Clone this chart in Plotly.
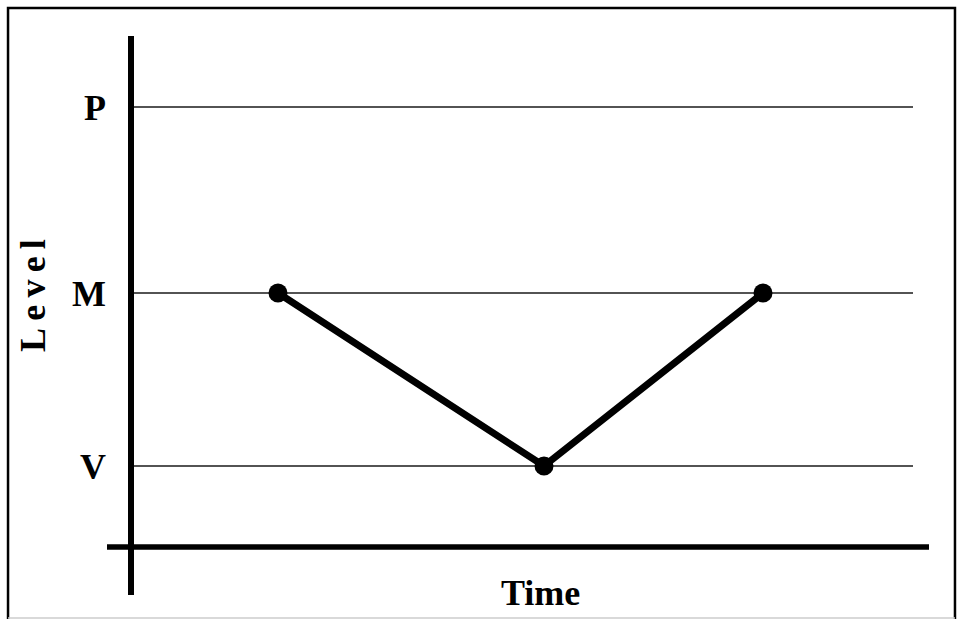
import plotly.graph_objects as go

# levels on the vertical scale (label -> position)
level_labels = ["V", "M", "P"]
level_values = [1.0, 2.0, 3.075]

# the path over time
time_points = [1.47, 4.13, 6.32]
path_levels = ["M", "V", "M"]

time_end = 7.82  # where the level lines stop

lvl = dict(zip(level_labels, level_values))
path_y = [lvl[k] for k in path_levels]

serif = "Liberation Serif, Times New Roman, serif"

fig = go.Figure()
fig.add_trace(go.Scatter(
    x=time_points, y=path_y, mode="lines+markers",
    line=dict(color="black", width=7),
    marker=dict(color="black", size=19),
    hoverinfo="skip", showlegend=False,
))

# level lines, from the vertical axis to the end of the time span
for v in level_values:
    fig.add_shape(type="line", xref="x", yref="y", x0=0, x1=time_end, y0=v, y1=v,
                  line=dict(color="#1a1a1a", width=1.5), layer="below")

# horizontal axis, running a little past the vertical one on both sides
fig.add_shape(type="line", xref="paper", yref="y", x0=0, x1=1, y0=0.532, y1=0.532,
              line=dict(color="black", width=5.5), layer="below")

# scanned page border
fig.add_shape(type="path", xref="paper", yref="paper",
              path="M -0.1204,-0.045 L -0.1204,1.0501 L 1.0316,1.0501 L 1.0316,-0.045",
              line=dict(color="black", width=2.5))
fig.add_shape(type="line", xref="paper", yref="paper", x0=-0.1204, x1=1.0316, y0=-0.0411, y1=-0.0411,
              line=dict(color="#cccccc", width=1.5))

fig.add_annotation(text="Time", xref="paper", yref="paper", x=0.5268, y=0.003,
                   xanchor="center", yanchor="middle", showarrow=False,
                   font=dict(family=serif, size=36, color="black", weight="bold"))
fig.add_annotation(text="L\u2009e\u2009v\u2009e\u2009l", xref="paper", yref="paper", x=-0.090, y=0.535,
                   xanchor="center", yanchor="middle", textangle=-90, showarrow=False,
                   font=dict(family=serif, size=36, color="black", weight="bold"))

fig.update_xaxes(range=[-0.24, 7.98], showgrid=False, showticklabels=False, ticks="",
                 showline=False, zeroline=True, zerolinecolor="black", zerolinewidth=5.5)
fig.update_yaxes(range=[0.2543, 3.4855], showgrid=False, zeroline=False, showline=False,
                 tickmode="array", tickvals=level_values, ticktext=level_labels, ticks="",
                 ticklabelstandoff=0,
                 tickfont=dict(family=serif, size=36, color="black", weight="bold"))

fig.update_layout(
    width=958, height=619,
    margin=dict(l=107, r=29, t=36, b=24),
    paper_bgcolor="white", plot_bgcolor="white",
    showlegend=False,
)

fig.write_html("out.html", config={"displayModeBar": False},
               post_script="document.body.style.margin='0px';")
